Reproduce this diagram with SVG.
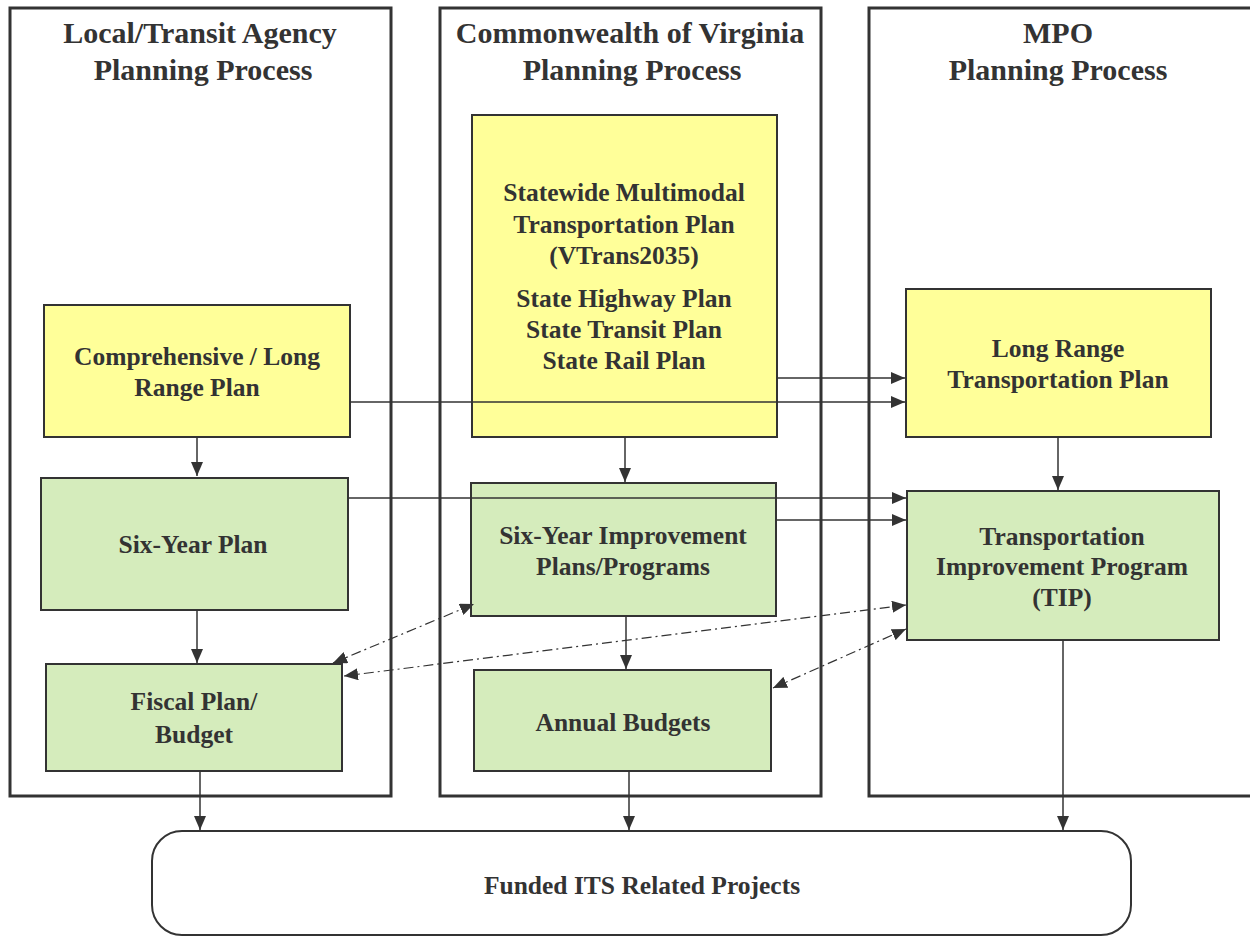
<svg xmlns="http://www.w3.org/2000/svg" width="1250" height="937" viewBox="0 0 1250 937">
<style>
.frame{fill:none;stroke:#333;stroke-width:3}
.title{font-family:"Liberation Serif",serif;font-weight:bold;font-size:30px;fill:#333;text-anchor:middle}
.lbl{font-family:"Liberation Serif",serif;font-weight:bold;font-size:25.5px;fill:#333;text-anchor:middle}
.y{fill:#FFFF99;stroke:#333;stroke-width:2}
.g{fill:#D5ECBC;stroke:#333;stroke-width:2}
.c{stroke:#333;stroke-width:1.5;fill:none}
.d{stroke:#333;stroke-width:1.2;fill:none;stroke-dasharray:10 4 2 4}
</style>
<defs>
<marker id="ah" viewBox="0 0 14 12" refX="14" refY="6" markerWidth="14" markerHeight="12" markerUnits="userSpaceOnUse" orient="auto-start-reverse">
<path d="M0,0 L14,6 L0,12 Z" fill="#333"/>
</marker>
</defs>
<rect width="1250" height="937" fill="#fff"/>
<g id="frames">
<rect class="frame" x="10" y="8" width="381" height="788"/>
<rect class="frame" x="440" y="8" width="381" height="788"/>
<rect class="frame" x="869" y="8" width="400" height="788"/>
<text class="title" x="200" y="43">Local/Transit Agency</text>
<text class="title" x="203" y="80">Planning Process</text>
<text class="title" x="630" y="43">Commonwealth of Virginia</text>
<text class="title" x="632" y="80">Planning Process</text>
<text class="title" x="1058" y="43">MPO</text>
<text class="title" x="1058" y="80">Planning Process</text>
</g>
<g id="comprehensive">
<rect class="y" x="44" y="305" width="306" height="132"/>
<text class="lbl" x="197" y="365">Comprehensive / Long</text>
<text class="lbl" x="197" y="396">Range Plan</text>
</g>
<g id="sixyear">
<rect class="g" x="41" y="478" width="307" height="132"/>
<text class="lbl" x="193" y="553">Six-Year Plan</text>
</g>
<g id="fiscal">
<rect class="g" x="46" y="664" width="296" height="107"/>
<text class="lbl" x="194" y="710">Fiscal Plan/</text>
<text class="lbl" x="194" y="743">Budget</text>
</g>
<g id="statewide">
<rect class="y" x="472" y="115" width="305" height="322"/>
<text class="lbl" x="624" y="201">Statewide Multimodal</text>
<text class="lbl" x="624" y="233">Transportation Plan</text>
<text class="lbl" x="624" y="264">(VTrans2035)</text>
<text class="lbl" x="624" y="307">State Highway Plan</text>
<text class="lbl" x="624" y="338">State Transit  Plan</text>
<text class="lbl" x="624" y="369">State Rail Plan</text>
</g>
<g id="syip">
<rect class="g" x="471" y="483" width="305" height="133"/>
<text class="lbl" x="623" y="544">Six-Year Improvement</text>
<text class="lbl" x="623" y="575">Plans/Programs</text>
</g>
<g id="annual">
<rect class="g" x="474" y="670" width="297" height="101"/>
<text class="lbl" x="623" y="731">Annual Budgets</text>
</g>
<g id="lrtp">
<rect class="y" x="906" y="289" width="305" height="148"/>
<text class="lbl" x="1058" y="357">Long Range</text>
<text class="lbl" x="1058" y="388">Transportation Plan</text>
</g>
<g id="tip">
<rect class="g" x="907" y="491" width="312" height="149"/>
<text class="lbl" x="1062" y="545">Transportation</text>
<text class="lbl" x="1062" y="575">Improvement Program</text>
<text class="lbl" x="1062" y="606">(TIP)</text>
</g>
<g id="funded">
<rect x="152" y="831" width="979" height="104" rx="30" fill="#fff" stroke="#333" stroke-width="2"/>
<text class="lbl" x="642" y="894">Funded ITS Related Projects</text>
</g>
<g id="connectors">
<line class="c" x1="197" y1="437" x2="197" y2="476" marker-end="url(#ah)"/>
<line class="c" x1="197" y1="610" x2="197" y2="663" marker-end="url(#ah)"/>
<line class="c" x1="200" y1="771" x2="200" y2="830" marker-end="url(#ah)"/>
<line class="c" x1="625" y1="437" x2="625" y2="482" marker-end="url(#ah)"/>
<line class="c" x1="626" y1="616" x2="626" y2="669" marker-end="url(#ah)"/>
<line class="c" x1="629" y1="771" x2="629" y2="830" marker-end="url(#ah)"/>
<line class="c" x1="1058" y1="437" x2="1058" y2="490" marker-end="url(#ah)"/>
<line class="c" x1="1063" y1="640" x2="1063" y2="830" marker-end="url(#ah)"/>
<line class="c" x1="777" y1="378" x2="905" y2="378" marker-end="url(#ah)"/>
<line class="c" x1="350" y1="402" x2="905" y2="402" marker-end="url(#ah)"/>
<line class="c" x1="348" y1="498" x2="906" y2="498" marker-end="url(#ah)"/>
<line class="c" x1="777" y1="520" x2="906" y2="520" marker-end="url(#ah)"/>
<line class="d" x1="333" y1="663" x2="474" y2="604" marker-start="url(#ah)" marker-end="url(#ah)"/>
<line class="d" x1="344" y1="676" x2="906" y2="605" marker-start="url(#ah)" marker-end="url(#ah)"/>
<line class="d" x1="773" y1="688" x2="906" y2="629" marker-start="url(#ah)" marker-end="url(#ah)"/>
</g>
</svg>
